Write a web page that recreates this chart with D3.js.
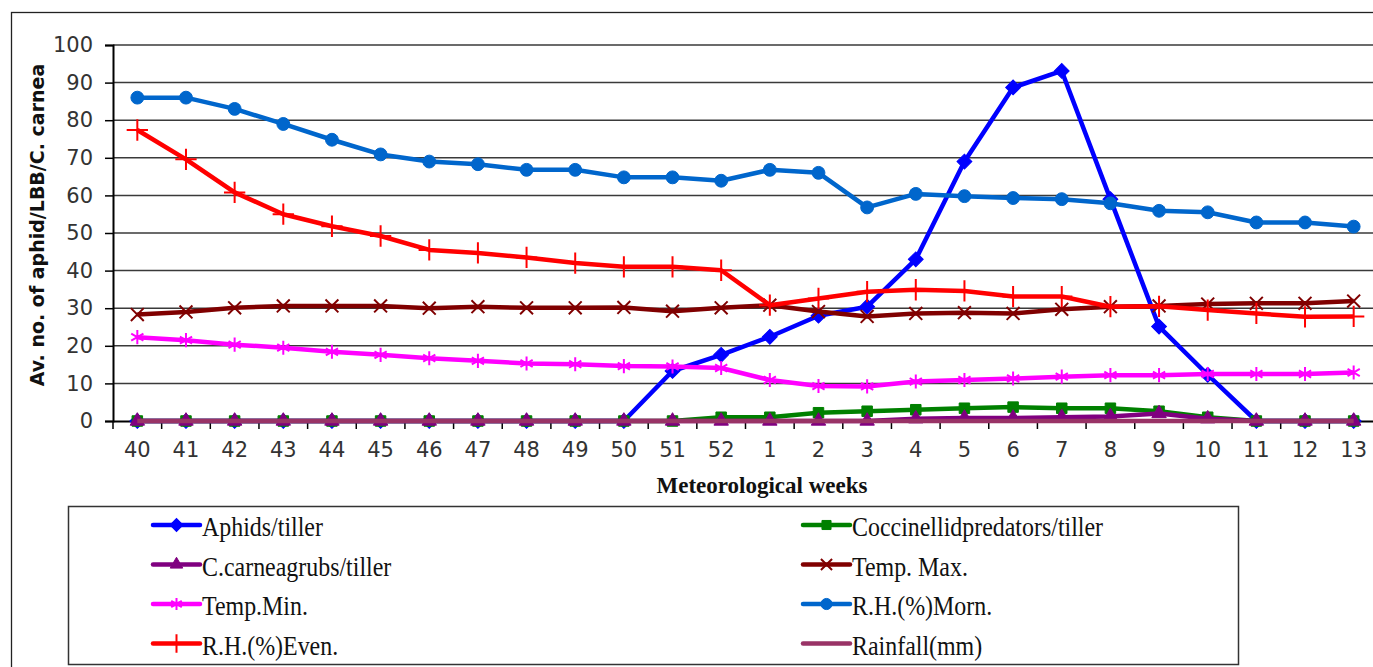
<!DOCTYPE html>
<html>
<head>
<meta charset="utf-8">
<script src="https://cdn.jsdelivr.net/npm/d3@7"></script>
<style>
  body { margin: 0; background: #fff; }
  svg { display: block; }
</style>
</head>
<body>
<script>
// Meteorological weeks (Oct -> Mar)
const weeks = ['40','41','42','43','44','45','46','47','48','49','50','51','52',
               '1','2','3','4','5','6','7','8','9','10','11','12','13'];

const aphids      = [0,0,0,0,0,0,0,0,0,0,0,13.3,17.6,22.4,28.0,30.4,43.0,69.0,88.7,93.1,59.0,25.1,12.3,0,0,0];
const coccinellid = [0,0,0,0,0,0,0,0,0,0,0,0,1.0,1.0,2.2,2.6,3.0,3.4,3.7,3.4,3.4,2.6,1.0,0,0,0];
const ccarnea     = [0,0,0,0,0,0,0,0,0,0,0,0,0,0,0,0,0.6,0.8,0.8,1.0,1.2,2.0,0.6,0,0,0];
const tempMax     = [28.3,29.0,30.1,30.6,30.6,30.6,30.0,30.4,30.1,30.1,30.2,29.2,30.1,30.8,29.1,27.8,28.6,28.8,28.6,29.7,30.4,30.6,31.1,31.3,31.3,31.9];
const tempMin     = [22.3,21.5,20.3,19.5,18.4,17.6,16.7,16.0,15.3,15.1,14.6,14.5,14.1,10.9,9.3,9.2,10.5,10.9,11.3,11.8,12.2,12.2,12.5,12.5,12.5,12.9];
const rhMorn      = [86.0,86.0,83.0,79.0,74.8,70.9,69.0,68.3,66.8,66.8,64.8,64.8,63.9,66.8,66.0,56.8,60.4,59.8,59.3,59.0,57.9,55.9,55.5,52.8,52.8,51.7];
const rhEven      = [77.4,69.6,60.8,55.0,51.8,49.2,45.5,44.7,43.5,42.0,41.0,41.0,40.1,30.8,32.6,34.4,34.9,34.6,33.1,33.1,30.4,30.5,29.5,28.6,27.7,27.8];
const rainfall    = [0,0,0,0,0,0,0,0,0,0,0,0,0,0,0,0,0,0,0,0,0,0,0,0,0,0];

const seriesNames = ['Aphids/tiller','Coccinellidpredators/tiller','C.carneagrubs/tiller','Temp. Max.',
                     'Temp.Min.','R.H.(%)Morn.','R.H.(%)Even.','Rainfall(mm)'];
const seriesColors = ['#0000ff','#008000','#800080','#800000','#ff00ff','#0066cc','#ff0000','#993366'];
const seriesMarkers = ['diamond','square','triangle','times','asterisk','circle','plus','none'];
const yTicks = [0,10,20,30,40,50,60,70,80,90,100];

const series = [aphids, coccinellid, ccarnea, tempMax, tempMin, rhMorn, rhEven, rainfall]
  .map((values, i) => ({ name: seriesNames[i], color: seriesColors[i], marker: seriesMarkers[i], values }));

const W = 1373, H = 667;
const margin = { left: 113, top: 45, right: 1378, bottom: 421 };

const svg = d3.select('body').append('svg')
  .attr('width', W)
  .attr('height', H);

// outer frame
svg.append('rect')
  .attr('x', 11.5).attr('y', 12.5)
  .attr('width', 1420).attr('height', 700)
  .attr('fill', 'none')
  .attr('stroke', '#222')
  .attr('stroke-width', 1.3);

const x = d3.scaleBand()
  .domain(weeks)
  .range([margin.left, margin.right]);

const y = d3.scaleLinear()
  .domain([0, 100])
  .range([margin.bottom, margin.top]);

// gridlines
svg.append('g')
  .selectAll('line')
  .data(yTicks.slice(1))
  .enter()
  .append('line')
  .attr('x1', margin.left)
  .attr('x2', margin.right)
  .attr('y1', d => y(d))
  .attr('y2', d => y(d))
  .attr('stroke', '#3a3a3a')
  .attr('stroke-width', 1.5);

// y axis
const yAxis = svg.append('g')
  .attr('transform', 'translate(' + margin.left + ',0)')
  .call(d3.axisLeft(y).tickValues(yTicks).tickSize(8).tickPadding(12));
yAxis.select('.domain').attr('stroke', '#000').attr('stroke-width', 2);
yAxis.selectAll('.tick line').attr('stroke', '#000').attr('stroke-width', 1.5);
yAxis.selectAll('text')
  .attr('font-family', '"DejaVu Sans", Verdana, sans-serif')
  .attr('font-size', 21)
  .attr('fill', '#333');

// x axis
const xAxis = svg.append('g')
  .attr('transform', 'translate(0,' + margin.bottom + ')')
  .call(d3.axisBottom(x).tickSize(0).tickPadding(21));
xAxis.select('.domain').attr('stroke', '#000').attr('stroke-width', 2);
xAxis.selectAll('text')
  .attr('font-family', '"DejaVu Sans", Verdana, sans-serif')
  .attr('font-size', 21)
  .attr('fill', '#333');

// tick marks between categories
xAxis.selectAll('.bound')
  .data(d3.range(weeks.length + 1))
  .enter()
  .append('line')
  .attr('class', 'bound')
  .attr('x1', i => x.range()[0] + i * x.step())
  .attr('x2', i => x.range()[0] + i * x.step())
  .attr('y1', 0)
  .attr('y2', 8)
  .attr('stroke', '#000')
  .attr('stroke-width', 1.5);

// axis titles
svg.append('text')
  .attr('x', 762)
  .attr('y', 493)
  .attr('text-anchor', 'middle')
  .attr('font-family', '"Liberation Serif", "Times New Roman", serif')
  .attr('font-weight', 'bold')
  .attr('font-size', 23)
  .attr('fill', '#111')
  .text('Meteorological weeks');

svg.append('text')
  .attr('transform', 'translate(44,225) rotate(-90)')
  .attr('text-anchor', 'middle')
  .attr('font-family', '"DejaVu Sans", Verdana, sans-serif')
  .attr('font-weight', 'bold')
  .attr('font-size', 19)
  .attr('fill', '#111')
  .text('Av. no. of aphid/LBB/C. carnea');

// marker drawing
const symbolFor = {
  diamond: d3.symbolSquare,
  square: d3.symbolSquare,
  triangle: d3.symbolTriangle,
  circle: d3.symbolCircle,
  times: d3.symbolTimes,
  asterisk: d3.symbolAsterisk,
  plus: d3.symbolPlus
};
const symbolSize = { diamond: 110, square: 110, triangle: 90, circle: 130, times: 110, asterisk: 140, plus: 150 };
const strokeMarker = m => m === 'times' || m === 'asterisk' || m === 'plus';

function styleMarker(sel, d, scale) {
  const sym = d3.symbol().type(symbolFor[d.marker]).size(symbolSize[d.marker] * scale);
  sel.attr('d', sym)
    .attr('fill', strokeMarker(d.marker) ? 'none' : d.color)
    .attr('stroke', d.color)
    .attr('stroke-width', strokeMarker(d.marker) ? 2 : 1);
}
const rot = m => (m === 'diamond' ? ' rotate(45)' : '');

const line = d3.line()
  .x((d, i) => x(weeks[i]) + x.bandwidth() / 2)
  .y(d => y(d));

series.forEach(s => {
  const g = svg.append('g');
  g.append('path')
    .datum(s.values)
    .attr('d', line)
    .attr('fill', 'none')
    .attr('stroke', s.color)
    .attr('stroke-width', 4.5)
    .attr('stroke-linejoin', 'round');
  if (s.marker !== 'none') {
    g.selectAll('path.mk')
      .data(s.values)
      .enter()
      .append('path')
      .attr('class', 'mk')
      .attr('transform', (d, i) => 'translate(' + (x(weeks[i]) + x.bandwidth() / 2) + ',' + y(d) + ')' + rot(s.marker))
      .each(function () { styleMarker(d3.select(this), s, 1); });
  }
});

// legend
svg.append('rect')
  .attr('x', 68.5).attr('y', 506.5)
  .attr('width', 1170).attr('height', 158)
  .attr('fill', '#fff')
  .attr('stroke', '#333')
  .attr('stroke-width', 1.5);

const legend = svg.append('g')
  .selectAll('g')
  .data(series)
  .enter()
  .append('g')
  .attr('transform', (d, i) => 'translate(' + (i % 2 === 0 ? 153 : 803) + ',' + (525 + Math.floor(i / 2) * 39.5) + ')');

legend.append('line')
  .attr('x1', 0).attr('x2', 47)
  .attr('stroke', d => d.color)
  .attr('stroke-width', 4.5)
  .attr('stroke-linecap', 'round');

legend.filter(d => d.marker !== 'none')
  .append('path')
  .attr('transform', d => 'translate(23.5,0)' + rot(d.marker))
  .each(function (d) { styleMarker(d3.select(this), d, 0.75); });

legend.append('text')
  .attr('transform', 'translate(49,11) scale(0.87,1)')
  .attr('font-family', '"Liberation Serif", "Times New Roman", serif')
  .attr('font-size', 27.5)
  .attr('fill', '#111')
  .text(d => d.name);
</script>
</body>
</html>
